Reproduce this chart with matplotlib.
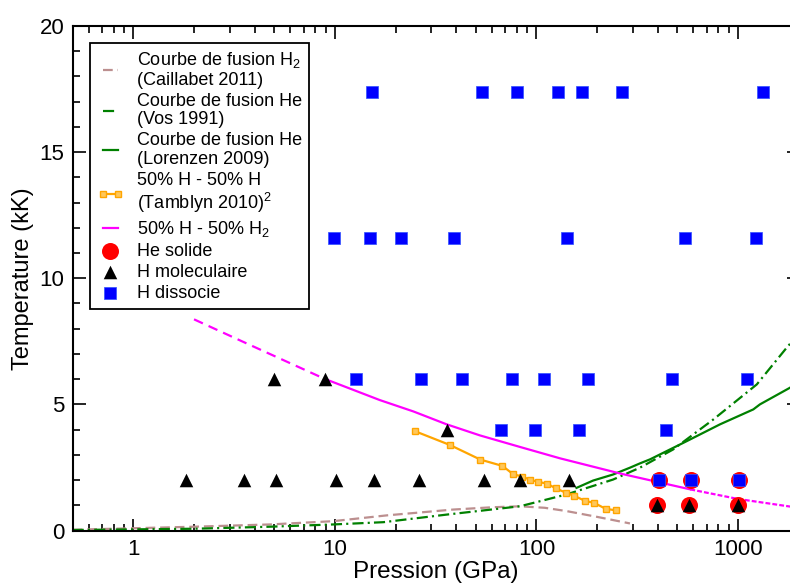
import matplotlib
matplotlib.use("Agg")
import matplotlib.pyplot as plt
import numpy as np

plt.rcParams['font.family'] = ['Liberation Sans', 'DejaVu Sans']
plt.rcParams['mathtext.fontset'] = 'custom'
plt.rcParams['mathtext.rm'] = 'Liberation Sans'
plt.rcParams['mathtext.it'] = 'Liberation Sans:italic'
plt.rcParams['lines.scale_dashes'] = False

# Courbe de fusion H2 (Caillabet 2011)
p_caillabet = [0.5, 2.0, 4.76, 9.8, 18.1, 38.6, 60, 82.8, 110, 141, 200, 291]
t_caillabet = [0.03, 0.15, 0.24, 0.37, 0.6, 0.83, 0.92, 0.96, 0.9, 0.77, 0.54, 0.28]

# Courbe de fusion He (Vos 1991)
p_vos = [0.5, 2.0, 4.76, 9.8, 17.4, 35.8, 82.8, 104, 141, 240, 326, 476, 754, 1239, 1745, 2000]
t_vos = [0.02, 0.07, 0.15, 0.24, 0.33, 0.63, 0.96, 1.16, 1.43, 2.02, 2.49, 3.21, 4.4, 5.79, 7.25, 7.8]

# Courbe de fusion He (Lorenzen 2009)
p_lorenzen = [158, 191, 240, 291, 326, 366, 556, 815, 1191, 1285, 1811, 2000]
t_lorenzen = [1.69, 1.98, 2.22, 2.49, 2.66, 2.82, 3.54, 4.21, 4.8, 5.0, 5.66, 5.9]

# 50% H - 50% H2 (Tamblyn 2010)
p_tamblyn = [24.9, 37.2, 52.7, 67.8, 76.4, 84.3, 92.9, 101.4, 112.8, 124.7,
             139.8, 154.4, 174.7, 192.9, 220.4, 247.3]
t_tamblyn = [3.94, 3.39, 2.81, 2.56, 2.24, 2.14, 2.02, 1.93, 1.86, 1.67,
             1.50, 1.37, 1.17, 1.10, 0.86, 0.80]

# 50% H - 50% H2 (ce travail) : extrapolation / calcul / extrapolation
p_mix_bas = [2.0, 3.66, 8.9]
t_mix_bas = [8.37, 7.41, 6.01]
p_mix = [8.9, 16.7, 24.5, 35.8, 52.4, 83, 131, 260, 580]
t_mix = [6.01, 5.17, 4.72, 4.21, 3.77, 3.31, 2.86, 2.26, 1.63]
p_mix_haut = [580, 1000, 1811, 2000]
t_mix_haut = [1.63, 1.25, 0.95, 0.9]

# simulations
p_he_solide = [395, 570, 995, 405, 585, 1010]
t_he_solide = [1, 1, 1, 2, 2, 2]

p_h_mol = [5.0, 8.9, 35.8, 1.82, 3.52, 5.08, 10.1, 15.6, 26.1, 54.7, 82.8, 145.6, 395, 570, 995]
t_h_mol = [6, 6, 4, 2, 2, 2, 2, 2, 2, 2, 2, 2, 1, 1, 1]

p_h_diss = [15.3, 53.5, 80.3, 128, 169, 266, 1336,
            9.9, 15.0, 21.3, 39.1, 141, 546, 1228,
            12.7, 26.8, 42.8, 75.8, 109, 180, 470, 1112,
            66.6, 98.3, 163, 441,
            405, 585, 1010]
t_h_diss = [17.4] * 7 + [11.6] * 7 + [6] * 8 + [4] * 4 + [2] * 3

fig = plt.figure(figsize=(7.9, 5.84), dpi=100)
ax = fig.add_axes([0.092, 0.0916, 0.919, 0.864])

ax.plot(p_caillabet, t_caillabet, color='#bc8f8f', lw=1.6, dashes=(7, 3.5),
        label='Courbe de fusion H$_2$\n(Caillabet 2011)', zorder=2)
ax.plot(p_vos, t_vos, color='#008000', lw=1.6, dashes=(8, 3, 1.5, 3),
        label='Courbe de fusion He\n(Vos 1991)', zorder=2)
ax.plot(p_lorenzen, t_lorenzen, color='#008000', lw=1.6,
        label='Courbe de fusion He\n(Lorenzen 2009)', zorder=2)
ax.plot(p_tamblyn, t_tamblyn, color='#ffa500', lw=1.6, marker='s', ms=4.5,
        mfc='#ffc75a', mec='#ffa500', mew=1,
        label='50% H - 50% H\n(Tamblyn 2010)$^2$', zorder=2)

ax.plot(p_mix_bas, t_mix_bas, color='#ff00ff', lw=1.6, dashes=(7, 4.5), zorder=2)
ax.plot(p_mix, t_mix, color='#ff00ff', lw=1.6, label='50% H - 50% H$_2$', zorder=2)
ax.plot(p_mix_haut, t_mix_haut, color='#ff00ff', lw=1.6, dashes=(3.5, 1.5), zorder=2)

ax.scatter(p_he_solide, t_he_solide, s=150, marker='o', color='red', lw=0,
           label='He solide', zorder=3)
ax.scatter(p_h_mol, t_h_mol, s=95, marker='^', color='black', lw=0,
           label='H moleculaire', zorder=4)
ax.scatter(p_h_diss, t_h_diss, s=72, marker='s', color='blue', lw=0.5,
           edgecolors='#3050ff', label='H dissocie', zorder=4)

ax.set_xscale('log')
ax.set_xlim(0.5, 2000)
ax.set_ylim(0, 20)
ax.set_xticks([1, 10, 100, 1000])
ax.set_xticklabels(['1', '10', '100', '1000'])
ax.set_yticks([0, 5, 10, 15, 20])
ax.set_yticks(np.arange(0, 21, 1), minor=True)
ax.xaxis.set_minor_locator(matplotlib.ticker.LogLocator(base=10, subs=np.arange(2, 10)))
ax.xaxis.set_minor_formatter(matplotlib.ticker.NullFormatter())

ax.tick_params(which='both', direction='in', top=True, right=True, labelsize=16, width=1.2)
ax.tick_params(which='major', length=9, pad=6)
ax.tick_params(which='minor', length=5)
for s in ax.spines.values():
    s.set_linewidth(1.5)

ax.set_xlabel('Pression (GPa)', fontsize=17.5, labelpad=1)
ax.set_ylabel('Temperature (kK)', fontsize=17, labelpad=4)

leg = ax.legend(loc='upper left', bbox_to_anchor=(0.024, 0.966), borderaxespad=0,
                fontsize=13, frameon=True, fancybox=False, framealpha=1,
                edgecolor='black', handlelength=1.45, handletextpad=0.75,
                labelspacing=0.22, borderpad=0.4, numpoints=2, scatterpoints=1)
leg.get_frame().set_linewidth(1.3)
for t in leg.get_texts():
    t.set_linespacing(1.12)

fig.savefig('out.png', dpi=100)
